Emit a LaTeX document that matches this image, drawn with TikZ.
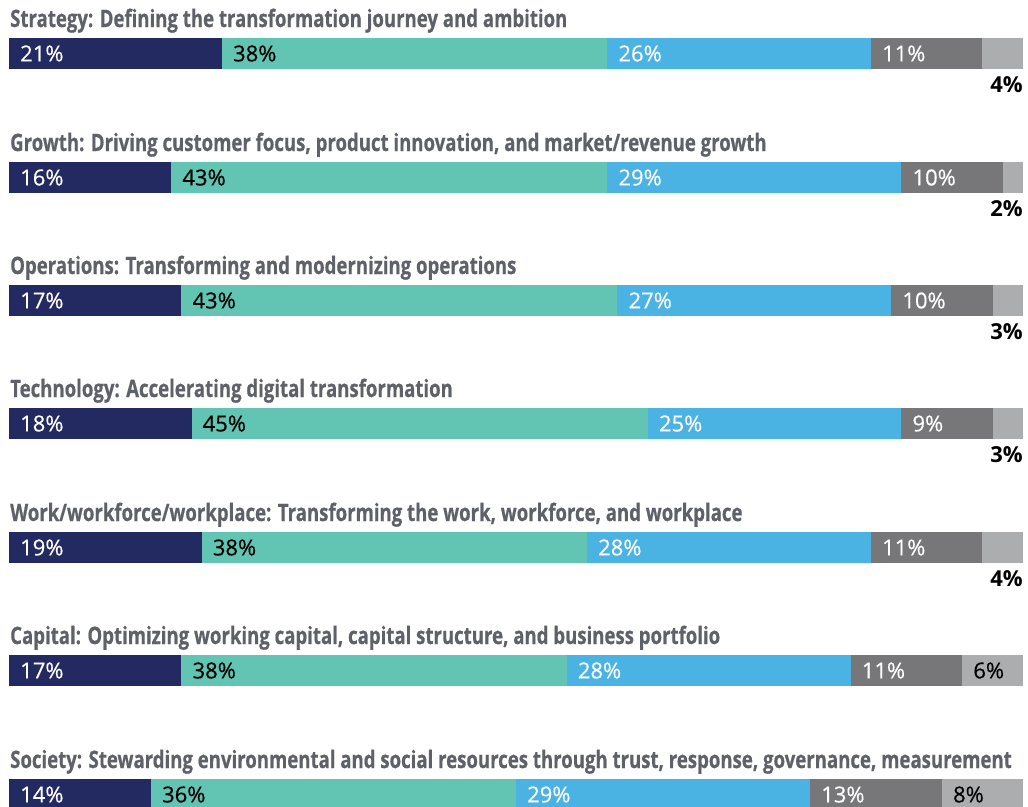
\documentclass[tikz,border=0pt]{standalone}
\usepackage{fontspec}
\setmainfont{Open Sans}
\newfontfamily\titlefont[FakeStretch=0.775,FakeBold=0.6]{Open Sans}
\newfontfamily\labfont[FakeBold=0.4]{Open Sans}
\definecolor{cNavy}{HTML}{222A61}
\definecolor{cTeal}{HTML}{62C4B2}
\definecolor{cBlue}{HTML}{4BB3E3}
\definecolor{cDgray}{HTML}{77777A}
\definecolor{cLgray}{HTML}{ABADAF}
\definecolor{cTitle}{HTML}{5F6168}
\tikzset{
  seg/.style={draw=none, minimum height=31pt, inner sep=0pt, outer sep=0pt, anchor=north west},
  lab/.style={font=\labfont\fontsize{22}{22}\selectfont, anchor=west, inner sep=0pt},
  rowtitle/.style={font=\titlefont\bfseries\fontsize{24}{24}\selectfont, text=cTitle, anchor=base west, inner sep=0pt},
  belowlab/.style={font=\bfseries\fontsize{22}{22}\selectfont, anchor=east, inner sep=0pt, text=black}
}
\newcommand\barrow[8]{%
  \pgfmathsetmacro\segwA{10.14*#4}%
  \pgfmathsetmacro\segwB{10.14*#5}%
  \pgfmathsetmacro\segwC{10.14*#6}%
  \pgfmathsetmacro\segwD{10.14*#7}%
  \pgfmathsetmacro\segwE{10.14*#8}%
  \node[rowtitle] (t#1) at (10,#2-11) {#3};
  \node[seg, fill=cNavy, minimum width=\segwA pt] (#1a) at (9,#2) {};
  \node[seg, fill=cTeal, minimum width=\segwB pt] (#1b) at (#1a.north east) {};
  \node[seg, fill=cBlue, minimum width=\segwC pt] (#1c) at (#1b.north east) {};
  \node[seg, fill=cDgray, minimum width=\segwD pt] (#1d) at (#1c.north east) {};
  \node[seg, fill=cLgray, minimum width=\segwE pt] (#1e) at (#1d.north east) {};
  \node[lab, text=white] (#1la) at ([xshift=11pt]#1a.west) {#4\%};
  \node[lab, text=black] (#1lb) at ([xshift=11pt]#1b.west) {#5\%};
  \node[lab, text=white] (#1lc) at ([xshift=11pt]#1c.west) {#6\%};
  \node[lab, text=white] (#1ld) at ([xshift=11pt]#1d.west) {#7\%};
  \ifnum#8>5
    \node[lab, text=black] (#1le) at ([xshift=11pt]#1e.west) {#8\%};
  \else
    \node[belowlab] (#1le) at ([yshift=-16pt]#1e.south east) {#8\%};
  \fi
}
\begin{document}
\begin{tikzpicture}[x=1pt,y=-1pt]
\useasboundingbox (0,0) rectangle (1028,806);
\clip (0,0) rectangle (1028,806);
\barrow{r1}{38}{Strategy: Defining the transformation journey and ambition}{21}{38}{26}{11}{4}
\barrow{r2}{162}{Growth: Driving customer focus, product innovation, and market/revenue growth}{16}{43}{29}{10}{2}
\barrow{r3}{285}{Operations: Transforming and modernizing operations}{17}{43}{27}{10}{3}
\barrow{r4}{408}{Technology: Accelerating digital transformation}{18}{45}{25}{9}{3}
\barrow{r5}{532}{Work/workforce/workplace: Transforming the work, workforce, and workplace}{19}{38}{28}{11}{4}
\barrow{r6}{655}{Capital: Optimizing working capital, capital structure, and business portfolio}{17}{38}{28}{11}{6}
\barrow{r7}{779}{Society: Stewarding environmental and social resources through trust, response, governance, measurement}{14}{36}{29}{13}{8}
\end{tikzpicture}
\end{document}
